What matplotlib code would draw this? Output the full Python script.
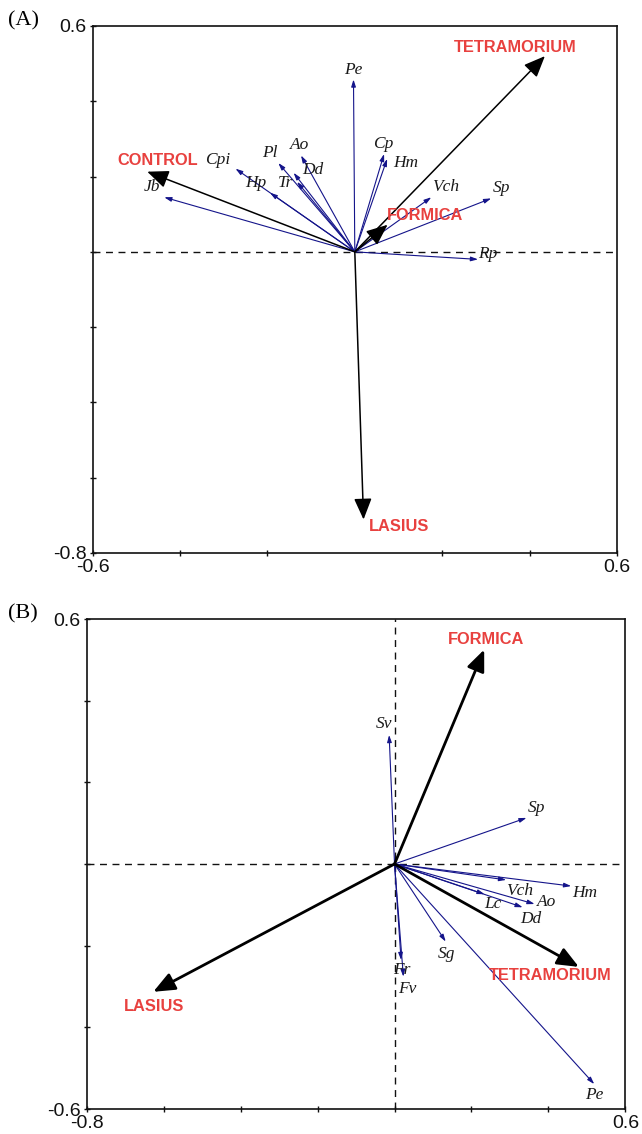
import matplotlib
matplotlib.use('Agg')
import matplotlib.pyplot as plt

plt.rcParams['axes.unicode_minus'] = False

# ---------------- Data: panel A ----------------
a_species = ['Pe', 'Cp', 'Hm', 'Vch', 'Sp', 'Rp', 'Ao', 'Dd', 'Pl', 'Tr', 'Hp', 'Cpi', 'Jb']
a_species_x = [-0.003, 0.067, 0.074, 0.175, 0.312, 0.282, -0.123, -0.140, -0.175, -0.132, -0.194, -0.273, -0.436]
a_species_y = [0.458, 0.260, 0.247, 0.145, 0.142, -0.020, 0.256, 0.210, 0.236, 0.186, 0.157, 0.221, 0.145]
a_groups = ['TETRAMORIUM', 'CONTROL', 'FORMICA', 'LASIUS']
a_groups_x = [0.435, -0.475, 0.075, 0.020]
a_groups_y = [0.520, 0.213, 0.072, -0.711]

# ---------------- Data: panel B ----------------
b_species = ['Sv', 'Sp', 'Hm', 'Vch', 'Ao', 'Dd', 'Lc', 'Sg', 'Fr', 'Fv', 'Pe']
b_species_x = [-0.014, 0.343, 0.459, 0.290, 0.364, 0.333, 0.234, 0.133, 0.017, 0.023, 0.519]
b_species_y = [0.316, 0.113, -0.054, -0.039, -0.098, -0.106, -0.074, -0.190, -0.235, -0.276, -0.539]
b_groups = ['FORMICA', 'TETRAMORIUM', 'LASIUS']
b_groups_x = [0.233, 0.479, -0.627]
b_groups_y = [0.525, -0.252, -0.313]

# ---------------- Layout (label offsets from arrow tips, in pixels) ----------------
a_species_off = {'Pe': (0, 9), 'Cp': (-1, 10), 'Hm': (19, -4), 'Vch': (14, 10), 'Sp': (10, 10),
                 'Rp': (10, 5), 'Ao': (-1, 10), 'Dd': (19, 3), 'Pl': (-8, 10), 'Tr': (-12, -1),
                 'Hp': (-14, 10), 'Cpi': (-18, 9), 'Jb': (-12, 10)}
a_groups_off = {'TETRAMORIUM': (-30, 9), 'CONTROL': (10, 11), 'FORMICA': (37, 9), 'LASIUS': (36, -7)}
b_species_off = {'Sv': (-5, 11), 'Sp': (10, 10), 'Hm': (14, -7), 'Vch': (14, -11), 'Ao': (12, 2),
                 'Dd': (8, -12), 'Lc': (8, -10), 'Sg': (1, -12), 'Fr': (1, -10), 'Fv': (4, -12),
                 'Pe': (0, -11)}
b_groups_off = {'FORMICA': (2, 10), 'TETRAMORIUM': (-29, -9), 'LASIUS': (1, -15)}

RED = '#e8413f'
NAVY = '#14148a'
PX2PT = 72.0 / 100.0

fig = plt.figure(figsize=(6.42, 11.34), dpi=100)

W, H = 642.0, 1134.0
axA = fig.add_axes([92.6 / W, 1 - 553 / H, (617 - 92.6) / W, (553 - 26) / H])
axB = fig.add_axes([86.7 / W, 1 - 1109 / H, (625.4 - 86.7) / W, (1109 - 619) / H])


def style_axes(ax, xlim, ylim, xticks, yticks):
    ax.set_xlim(*xlim)
    ax.set_ylim(*ylim)
    ax.set_xticks(xticks)
    ax.set_yticks(yticks)
    ax.set_xticklabels([('%.1f' % t) if t in (xlim[0], xlim[1]) else '' for t in xticks])
    ax.set_yticklabels([('%.1f' % t) if t in (ylim[0], ylim[1]) else '' for t in yticks])
    for s in ax.spines.values():
        s.set_linewidth(1.2)
        s.set_color('#111111')
    ax.tick_params(direction='inout', length=5, width=1, labelsize=14,
                   pad=2, colors='#111111')
    for lab in ax.get_xticklabels() + ax.get_yticklabels():
        lab.set_family('Liberation Sans')


def draw_arrows(ax, names, xs, ys, offs, group):
    for n, x, y in zip(names, xs, ys):
        if group:
            props = dict(arrowstyle='-|>,head_length=1.0,head_width=0.42', color='black',
                         lw=group, shrinkA=0, shrinkB=0, mutation_scale=13)
        else:
            props = dict(arrowstyle='-|>,head_length=0.7,head_width=0.22', color=NAVY,
                         lw=0.8, shrinkA=0, shrinkB=0, mutation_scale=6)
        ax.annotate('', xy=(x, y), xytext=(0, 0), arrowprops=props, zorder=3)
        dx, dy = offs[n]
        if group:
            ax.annotate(n, xy=(x, y), xytext=(dx * PX2PT, dy * PX2PT), textcoords='offset points',
                        ha='center', va='center', color=RED, fontsize=11.8, fontweight='bold',
                        family='Liberation Sans', zorder=4)
        else:
            ax.annotate(n, xy=(x, y), xytext=(dx * PX2PT, dy * PX2PT), textcoords='offset points',
                        ha='center', va='center', color='#1a1a1a', fontsize=12.5, fontstyle='italic',
                        family='Liberation Serif', zorder=4)


# Panel A
style_axes(axA, (-0.6, 0.6), (-0.8, 0.6),
           [-0.6, -0.4, -0.2, 0.2, 0.4, 0.6],
           [-0.8, -0.6, -0.4, -0.2, 0.0, 0.2, 0.4, 0.6])
axA.axhline(0, color='#111111', lw=1, ls=(0, (5, 4)), zorder=1)
draw_arrows(axA, a_species, a_species_x, a_species_y, a_species_off, 0)
draw_arrows(axA, a_groups, a_groups_x, a_groups_y, a_groups_off, 1.1)

# Panel B
style_axes(axB, (-0.8, 0.6), (-0.6, 0.6),
           [-0.8, -0.6, -0.4, -0.2, 0.0, 0.2, 0.4, 0.6],
           [-0.6, -0.4, -0.2, 0.0, 0.2, 0.4, 0.6])
axB.axhline(0, color='#111111', lw=1, ls=(0, (5, 4)), zorder=1)
axB.axvline(0, color='#111111', lw=1, ls=(0, (5, 4)), zorder=1)
draw_arrows(axB, b_species, b_species_x, b_species_y, b_species_off, 0)
draw_arrows(axB, b_groups, b_groups_x, b_groups_y, b_groups_off, 2.0)

fig.text(8 / W, 1 - 21 / H, '(A)', family='Liberation Serif', fontsize=16, va='center', ha='left')
fig.text(8 / W, 1 - 614 / H, '(B)', family='Liberation Serif', fontsize=16, va='center', ha='left')

fig.savefig('out.png', dpi=100)
